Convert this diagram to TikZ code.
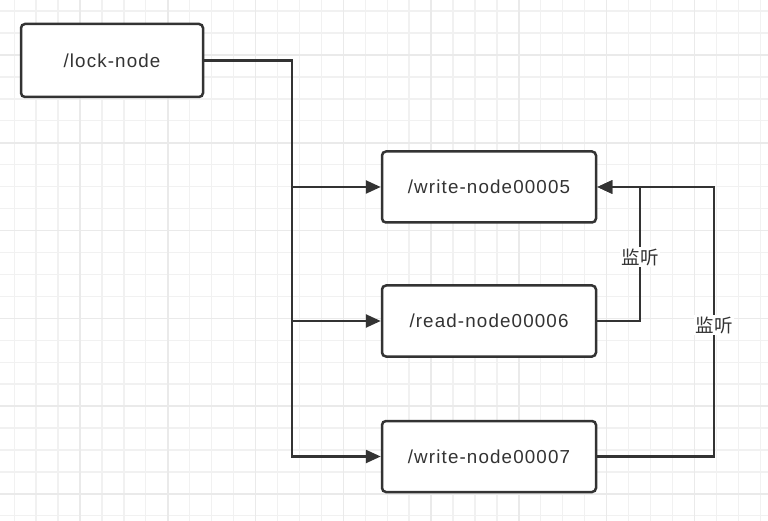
\documentclass[tikz,border=0pt]{standalone}
\usepackage{fontspec}
\setmainfont{Liberation Sans}[LetterSpace=6]
\newfontfamily\cjk{Noto Sans CJK SC}
\usetikzlibrary{arrows.meta}
\definecolor{ink}{HTML}{333333}
\definecolor{txt}{HTML}{333333}
\definecolor{gminor}{HTML}{F1F1F1}
\definecolor{gmajor}{HTML}{EAEAEA}
\tikzset{
  box/.style={draw=ink, line width=2.5pt, rounded corners=4pt, fill=white,
    text=txt, font=\fontsize{18.8}{20}\selectfont, inner sep=0pt},
  conn/.style={draw=ink, line width=2.5pt},
  arr/.style={conn, -{Triangle[length=15pt,width=13pt]}},
  lbl/.style={fill=white, text=txt, font=\cjk\fontsize{18.5}{20}\selectfont, inner sep=1.5pt}
}
\begin{document}
\begin{tikzpicture}[x=1pt,y=-1pt]
\useasboundingbox (0,0) rectangle (768,521);
\fill[white] (0,0) rectangle (768,521);
\begin{scope}
\clip (0,0) rectangle (768,521);
\foreach \i in {-1,...,36}{
  \pgfmathsetmacro{\xx}{80+(\i-4)*21.94}
  \draw[gminor, line width=1.3pt] (\xx,0) -- (\xx,521);
}
\foreach \i in {-1,...,26}{
  \pgfmathsetmacro{\yy}{55+(\i-2)*21.94}
  \draw[gminor, line width=1.3pt] (0,\yy) -- (768,\yy);
}
\foreach \i in {-1,...,9}{
  \pgfmathsetmacro{\xx}{80+\i*87.76}
  \draw[gmajor, line width=1.5pt] (\xx,0) -- (\xx,521);
}
\foreach \i in {-1,...,6}{
  \pgfmathsetmacro{\yy}{55+\i*87.76}
  \draw[gmajor, line width=1.5pt] (0,\yy) -- (768,\yy);
}
\end{scope}

\node[box, minimum width=182pt, minimum height=73pt] (lock) at (112,60.5) {/lock-node};
\node[box, minimum width=214pt, minimum height=71pt] (w5) at (489,187) {/write-node00005};
\node[box, minimum width=214pt, minimum height=71pt] (r6) at (489,321) {/read-node00006};
\node[box, minimum width=214pt, minimum height=71pt] (w7) at (489,456.5) {/write-node00007};

\coordinate (t0) at (292,60.5);
\coordinate (t1) at (292,187);
\coordinate (t2) at (292,321);
\coordinate (t3) at (292,456.5);
\coordinate (a1) at (640,321);
\coordinate (a2) at (640,187);
\coordinate (b1) at (714,456.5);
\coordinate (b2) at (714,187);

\draw[arr] (lock.east) -- (t0) -- (t3) -- (w7.west);
\draw[arr] (t1) -- (w5.west);
\draw[arr] (t2) -- (r6.west);
\draw[arr] (w7.east) -- (b1) -- (b2) -- (w5.east);
\draw[arr] (r6.east) -- (a1) -- (a2) -- (w5.east);
\node[lbl] (l1) at (640,257) {监听};
\node[lbl] (l2) at (714,325) {监听};
\end{tikzpicture}
\end{document}
